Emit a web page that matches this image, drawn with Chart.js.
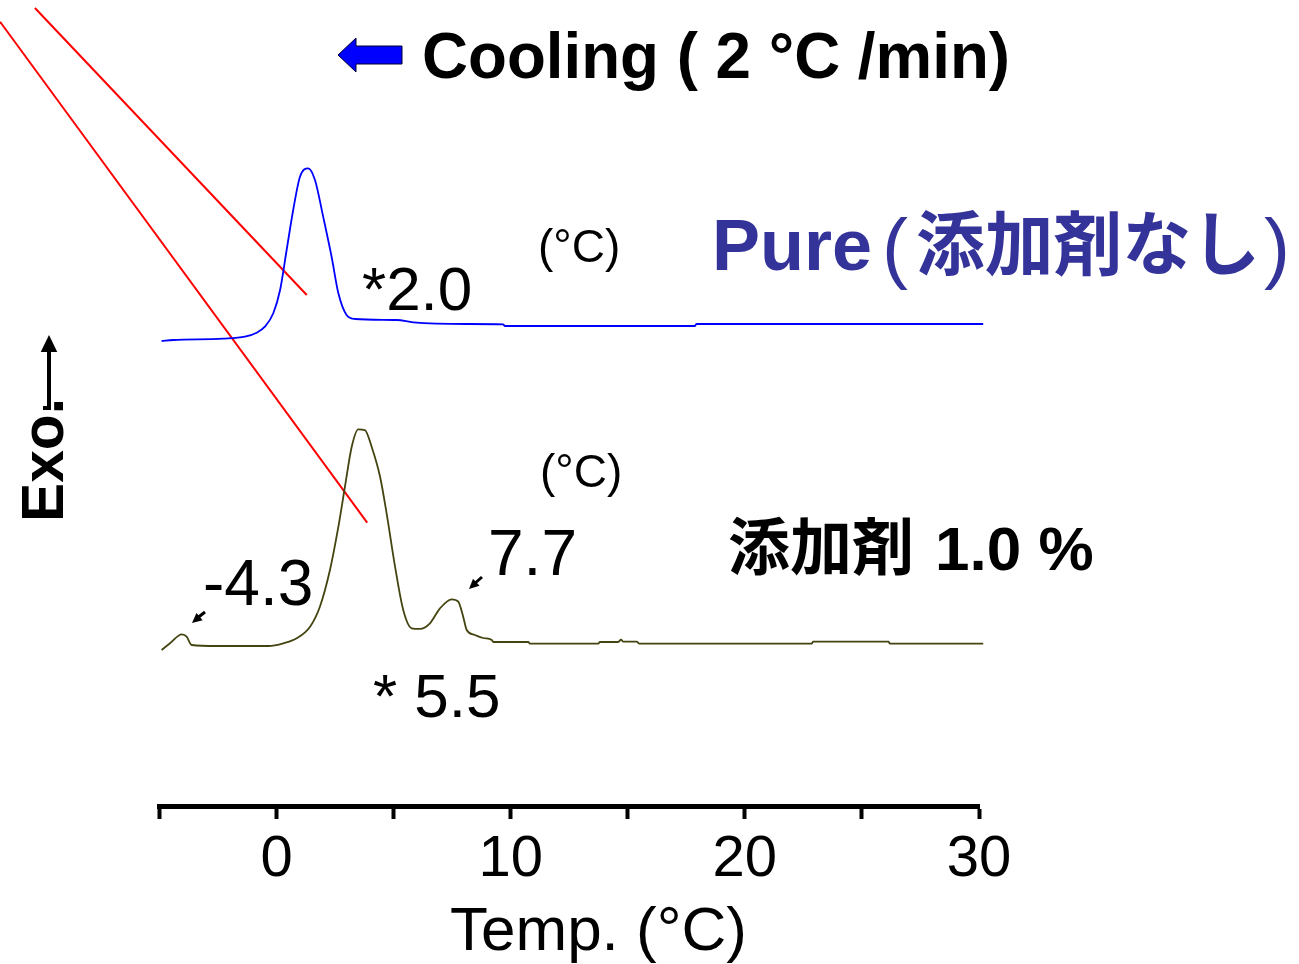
<!DOCTYPE html>
<html>
<head>
<meta charset="utf-8">
<script src="https://cdn.jsdelivr.net/npm/chart.js@4.4.1/dist/chart.umd.min.js"></script>
<style>
  body { margin: 0; background: #fff; }
  canvas { display: block; }
</style>
</head>
<body>
<canvas id="dsc" width="1299" height="964"></canvas>
<script>
// DSC cooling curves (temp in °C, signal in arbitrary units 0..100)
const pureTemp   = [-4.91, -4.42, -2.29, -1.35, -0.85, -0.50, -0.14, 0.15, 0.43, 0.71, 1.00, 1.35, 1.64, 1.99, 2.35, 2.64, 2.99, 3.35, 5.13, 5.84, 8.12, 9.68, 9.75, 17.87, 17.93, 30.18];
const pureSignal = [66.43, 66.57, 66.76, 67.04, 67.61, 68.47, 70.39, 73.71, 79.43, 85.14, 89.90, 91.10, 89.43, 84.19, 78.47, 73.24, 70.14, 69.57, 69.43, 69.10, 68.86, 68.81, 68.57, 68.57, 68.86, 68.86];

const addTemp   = [-4.91, -4.55, -4.05, -3.84, -3.63, -2.56, -0.35, 0.29, 0.86, 1.43, 1.85, 2.28, 2.64, 2.92, 3.21, 3.49, 3.77, 4.06, 4.42, 4.70, 5.06, 5.41, 5.77, 6.12, 6.55, 6.98, 7.48, 7.76, 7.97, 8.12, 8.47, 8.83, 9.19, 9.26, 10.75, 10.82, 13.74, 13.81, 14.59, 14.71, 14.81, 15.38, 15.49, 22.85, 22.92, 26.13, 26.20, 30.18];
const addSignal = [22.29, 23.24, 24.52, 24.19, 23.00, 22.86, 22.86, 23.24, 23.96, 25.61, 28.47, 33.71, 39.90, 45.61, 51.33, 53.81, 53.71, 51.33, 47.04, 41.81, 34.19, 28.00, 25.39, 25.29, 26.10, 28.24, 29.53, 29.19, 27.04, 25.14, 24.43, 24.00, 23.71, 23.43, 23.43, 23.19, 23.19, 23.43, 23.43, 23.76, 23.47, 23.47, 23.19, 23.19, 23.47, 23.47, 23.19, 23.19];

// red guide lines (start / end in the same temp / signal units)
const guideATemp = [-10.32, 1.29];
const guideASignal = [114.0, 73.0];
const guideBTemp = [-11.81, 3.87];
const guideBSignal = [112.04, 40.47];

const xMin = -5, xMax = 30, xStep = 5;

const LAT = '"Liberation Sans", Arial, sans-serif';
const CJK = '"Noto Sans CJK JP", sans-serif';

function pts(xs, ys) {
    return xs.map((x, i) => ({x: x, y: ys[i]}));
}

function line(label, xs, ys, color, width) {
    return {
        label: label,
        data: pts(xs, ys),
        borderColor: color,
        borderWidth: width,
        pointRadius: 0,
        cubicInterpolationMode: 'monotone',
        clip: false
    };
}

const bgPlugin = {
    id: 'bg',
    beforeDraw(chart) {
        const c = chart.ctx;
        c.save();
        c.fillStyle = '#fff';
        c.fillRect(0, 0, chart.width, chart.height);
        c.restore();
    }
};

function arrowHead(c, x1, y1, x2, y2, size) {
    const a = Math.atan2(y2 - y1, x2 - x1);
    c.beginPath();
    c.moveTo(x2, y2);
    c.lineTo(x2 - size * Math.cos(a - 0.45), y2 - size * Math.sin(a - 0.45));
    c.lineTo(x2 - size * Math.cos(a + 0.45), y2 - size * Math.sin(a + 0.45));
    c.closePath();
    c.fill();
}

const textPlugin = {
    id: 'labels',
    afterDraw(chart) {
        const c = chart.ctx;
        c.save();
        c.textBaseline = 'alphabetic';
        c.textAlign = 'left';

        // heading with blue arrow
        c.fillStyle = '#0000ff';
        c.strokeStyle = '#000033';
        c.lineWidth = 1;
        c.beginPath();
        c.moveTo(338, 55);
        c.lineTo(356, 38);
        c.lineTo(356, 46);
        c.lineTo(402, 46);
        c.lineTo(402, 64);
        c.lineTo(356, 64);
        c.lineTo(356, 72);
        c.closePath();
        c.fill();
        c.stroke();

        c.fillStyle = '#000';
        c.font = 'bold 64px ' + LAT;
        c.fillText('Cooling ( 2 °C /min)', 422, 78, 588);

        // series names
        c.fillStyle = '#333399';
        c.font = 'bold 72px ' + LAT;
        c.fillText('Pure', 712, 270);
        c.font = '78px ' + LAT;
        c.fillText('(', 882, 274);
        c.fillText(')', 1264, 274);
        c.font = 'bold 70px ' + CJK;
        c.fillText('添加剤なし', 916, 270, 344);

        c.fillStyle = '#000';
        c.font = 'bold 62px ' + CJK;
        c.fillText('添加剤', 728, 570);
        c.font = 'bold 62px ' + LAT;
        c.fillText('1.0 %', 935, 570);

        // peak values
        c.font = '46px ' + LAT;
        c.fillText('(°C)', 538, 262);
        c.fillText('(°C)', 540, 487);
        c.font = '62px ' + LAT;
        c.fillText('*2.0', 362, 310);
        c.fillText('* 5.5', 373, 717);
        c.font = '64px ' + LAT;
        c.fillText('-4.3', 203, 605);
        c.fillText('7.7', 488, 575);

        // small pointers
        c.strokeStyle = '#000';
        c.lineWidth = 3;
        [[205, 612, 192, 623], [482, 577, 469, 589]].forEach(a => {
            c.beginPath();
            c.moveTo(a[0], a[1]);
            c.lineTo(a[2] + 4, a[3] - 4);
            c.stroke();
            arrowHead(c, a[0], a[1], a[2], a[3], 11);
        });

        // axis title
        c.font = '62px ' + LAT;
        c.fillText('Temp. (°C)', 450, 950);

        // Exo. with up arrow
        c.save();
        c.translate(63, 522);
        c.rotate(-Math.PI / 2);
        c.font = 'bold 60px ' + LAT;
        c.fillText('Exo.', 0, 0, 124);
        c.restore();
        c.lineWidth = 4;
        c.beginPath();
        c.moveTo(43, 408);
        c.lineTo(49, 408);
        c.lineTo(49, 350);
        c.stroke();
        arrowHead(c, 49, 400, 49, 335, 19);

        c.restore();
    }
};

new Chart(document.getElementById('dsc'), {
    type: 'line',
    data: {
        datasets: [
            line('Pure', pureTemp, pureSignal, '#0000ff', 1.8),
            line('添加剤 1.0 %', addTemp, addSignal, '#444411', 1.8),
            line('guide A', guideATemp, guideASignal, '#ff0000', 2),
            line('guide B', guideBTemp, guideBSignal, '#ff0000', 2)
        ]
    },
    options: {
        responsive: false,
        animation: false,
        layout: {padding: {left: 159.5, right: 320, top: 106, bottom: 0}},
        plugins: {
            legend: {display: false},
            tooltip: {enabled: false}
        },
        scales: {
            x: {
                type: 'linear',
                min: xMin,
                max: xMax,
                afterFit: s => { s.height = 158; },
                border: {display: true, color: '#000', width: 5},
                grid: {drawOnChartArea: false, drawTicks: true, tickLength: 13, tickWidth: 4, tickColor: '#000'},
                ticks: {
                    stepSize: xStep,
                    autoSkip: false,
                    maxRotation: 0,
                    padding: 6,
                    color: '#000',
                    font: {family: 'Liberation Sans', size: 58},
                    callback: v => (v % 10 === 0 ? String(v) : '')
                }
            },
            y: {
                display: false,
                min: 0,
                max: 100
            }
        }
    },
    plugins: [bgPlugin, textPlugin]
});
</script>
</body>
</html>
